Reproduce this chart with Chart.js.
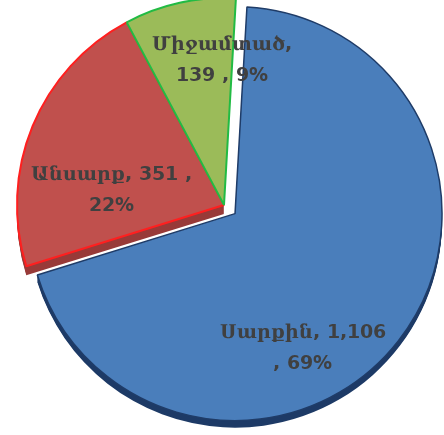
<!DOCTYPE html>
<html>
<head>
<meta charset="utf-8">
<script src="https://cdn.jsdelivr.net/npm/chart.js@4"></script>
<style>
  html, body { margin: 0; padding: 0; background: #fff; }
  #wrap { width: 444px; height: 435px; position: relative; }
  /* Armenian letters in a serif face, digits and punctuation in a sans face */
  @font-face { font-family: "LabelMix"; font-weight: bold; src: local("DejaVu Serif Bold"), local("DejaVuSerif-Bold"); unicode-range: U+0530-058F; }
  @font-face { font-family: "LabelMix"; font-weight: bold; src: local("DejaVu Sans Bold"), local("DejaVuSans-Bold"); unicode-range: U+0000-052F; }
</style>
</head>
<body>
<div id="wrap"><canvas id="pieChart" width="444" height="435"></canvas></div>
<script>
const labels = ["Սարքին", "Անսարք", "Միջամտած"];
const values = [1106, 351, 139];

const fillColors = ["#4a7ebb", "#c0504d", "#9bbb59"];
const borderColors = ["#1f3c68", "#ff1f1f", "#22bb44"];
const sideColors = ["#1d3a66", "#983a38", null];
const sideDepth = [7, 9, 0];
const sliceShift = [14, 0, 0];

// label placement relative to each slice: turn (deg) from mid angle, radius fraction
const labelTurn = [25.4, -15.3, 11.7];
const labelRadius = [0.73, 0.55, 0.70];
const labelBreak = [2, 3, 1];

const total = values.reduce((a, b) => a + b, 0);

function labelLines(i) {
    const pct = Math.round(values[i] / total * 100);
    const parts = [labels[i] + ",", values[i].toLocaleString("en-US"), ",", pct + "%"];
    return [parts.slice(0, labelBreak[i]).join(" "), parts.slice(labelBreak[i]).join(" ")];
}

// pull a slice out along its mid angle without growing its radius
const explodePlugin = {
    id: "explode",
    afterDatasetsUpdate(chart) {
        chart.getDatasetMeta(0).data.forEach((arc, i) => {
            if (!sliceShift[i]) return;
            const mid = (arc.startAngle + arc.endAngle) / 2;
            arc.x += Math.cos(mid) * sliceShift[i];
            arc.y += Math.sin(mid) * sliceShift[i];
        });
    }
};

const sidePlugin = {
    id: "sides",
    beforeDatasetsDraw(chart) {
        const ctx = chart.ctx;
        chart.getDatasetMeta(0).data.forEach((arc, i) => {
            if (!sideDepth[i]) return;
            ctx.save();
            ctx.fillStyle = sideColors[i];
            for (let d = 1; d <= sideDepth[i]; d++) {
                ctx.beginPath();
                ctx.moveTo(arc.x, arc.y + d);
                ctx.arc(arc.x, arc.y + d, arc.outerRadius, arc.startAngle, arc.endAngle);
                ctx.closePath();
                ctx.fill();
            }
            ctx.restore();
        });
    }
};

const labelPlugin = {
    id: "sliceLabels",
    afterDatasetsDraw(chart) {
        const ctx = chart.ctx;
        ctx.save();
        ctx.font = "bold 19px LabelMix, 'DejaVu Sans'";
        ctx.fillStyle = "#404040";
        ctx.textAlign = "center";
        ctx.textBaseline = "middle";
        chart.getDatasetMeta(0).data.forEach((arc, i) => {
            const a = (arc.startAngle + arc.endAngle) / 2 + labelTurn[i] * Math.PI / 180;
            const cx = arc.x + Math.cos(a) * arc.outerRadius * labelRadius[i];
            const cy = arc.y + Math.sin(a) * arc.outerRadius * labelRadius[i];
            const lines = labelLines(i);
            ctx.fillText(lines[0], cx, cy - 15.5);
            ctx.fillText(lines[1], cx, cy + 15.5);
        });
        ctx.restore();
    }
};

function drawChart() {
    new Chart(document.getElementById("pieChart"), {
        type: "pie",
        data: {
            labels: labels,
            datasets: [{
                data: values,
                backgroundColor: fillColors,
                borderColor: borderColors,
                borderWidth: [1.5, 2, 2],
                radius: 207
            }]
        },
        options: {
            responsive: false,
            animation: false,
            rotation: 3.3,
            layout: { padding: { left: 4, right: 0, top: 0, bottom: 25 } },
            plugins: {
                legend: { display: false },
                tooltip: { enabled: false }
            }
        },
        plugins: [explodePlugin, sidePlugin, labelPlugin]
    });
}

document.fonts.load("bold 19px LabelMix", "Ս1,").then(drawChart, drawChart);
</script>
</body>
</html>
